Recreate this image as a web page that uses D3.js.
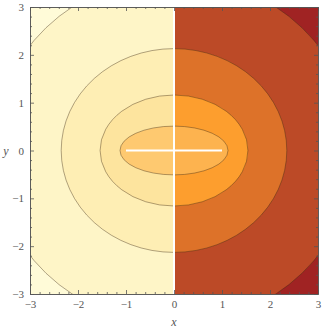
<!DOCTYPE html>
<html>
<head>
<meta charset="utf-8">
<script src="https://cdn.jsdelivr.net/npm/d3@7"></script>
<style>
  body { margin: 0; background: #fff; }
  svg text { font-family: "Liberation Serif", "DejaVu Serif", serif; }
</style>
</head>
<body>
<svg id="chart" width="322" height="330"></svg>
<script>
// contour ellipses (semi axes), innermost first
const semiX = [1.125, 1.54, 2.35, 3.77];
const semiY = [0.51, 1.16, 2.13, 3.63];
// fill colours from the centre outwards, last one = beyond outer contour
const leftFill = ['#fec970', '#fde49e', '#feeeb4', '#fef5c7', '#fffbd8'];
const rightFill = ['#fdb34f', '#fd9e2e', '#dd7229', '#bc4a27', '#a02323'];
// white cut lines
const cuts = [
  { x1: 0, y1: -3, x2: 0, y2: 3 },
  { x1: -1, y1: 0, x2: 1, y2: 0 }
];
const majorTicks = [-3, -2, -1, 0, 1, 2, 3];
const minorTicks = d3.range(-30, 31, 2).map(d => d / 10).filter(d => !majorTicks.includes(d));

const svg = d3.select('#chart');
const x = d3.scaleLinear().domain([-3, 3]).range([30, 318]);
const y = d3.scaleLinear().domain([-3, 3]).range([294, 7]);

const defs = svg.append('defs');
defs.append('clipPath').attr('id', 'clip-all')
  .append('rect').attr('x', x(-3)).attr('y', y(3))
  .attr('width', x(3) - x(-3)).attr('height', y(-3) - y(3));
defs.append('clipPath').attr('id', 'clip-left')
  .append('rect').attr('x', x(-3)).attr('y', y(3))
  .attr('width', x(0) - x(-3)).attr('height', y(-3) - y(3));
defs.append('clipPath').attr('id', 'clip-right')
  .append('rect').attr('x', x(0)).attr('y', y(3))
  .attr('width', x(3) - x(0)).attr('height', y(-3) - y(3));

const order = d3.range(semiX.length).reverse();

const drawHalf = (clipId, fills) => {
  const g = svg.append('g').attr('clip-path', `url(#${clipId})`);
  g.append('rect')
    .attr('x', x(-3)).attr('y', y(3))
    .attr('width', x(3) - x(-3)).attr('height', y(-3) - y(3))
    .attr('fill', fills[semiX.length]);
  g.selectAll('ellipse')
    .data(order)
    .enter()
    .append('ellipse')
    .attr('cx', x(0))
    .attr('cy', y(0))
    .attr('rx', i => x(semiX[i]) - x(0))
    .attr('ry', i => y(0) - y(semiY[i]))
    .attr('fill', i => fills[i]);
};

drawHalf('clip-left', leftFill);
drawHalf('clip-right', rightFill);

// contour lines
svg.append('g').attr('clip-path', 'url(#clip-all)')
  .selectAll('ellipse')
  .data(order)
  .enter()
  .append('ellipse')
  .attr('cx', x(0))
  .attr('cy', y(0))
  .attr('rx', i => x(semiX[i]) - x(0))
  .attr('ry', i => y(0) - y(semiY[i]))
  .attr('fill', 'none')
  .attr('stroke', 'rgba(60,40,20,0.45)')
  .attr('stroke-width', 0.9);

svg.append('g')
  .selectAll('line')
  .data(cuts)
  .enter()
  .append('line')
  .attr('x1', d => x(d.x1)).attr('y1', d => y(d.y1))
  .attr('x2', d => x(d.x2)).attr('y2', d => y(d.y2))
  .attr('stroke', '#fff')
  .attr('stroke-width', 2);

// frame and ticks
const fmt = d => d < 0 ? '\u2212' + Math.abs(d) : String(d);
const frame = (axisFn, tx, ty, labels) => {
  const major = svg.append('g').attr('transform', `translate(${tx},${ty})`)
    .call(axisFn.tickValues(majorTicks).tickSizeInner(-4).tickSizeOuter(0)
      .tickPadding(6).tickFormat(labels ? fmt : ''));
  const minor = svg.append('g').attr('transform', `translate(${tx},${ty})`)
    .call(axisFn.tickValues(minorTicks).tickSizeInner(-2).tickSizeOuter(0).tickFormat(''));
  [major, minor].forEach(g => {
    g.selectAll('path, line').attr('stroke', '#555').attr('stroke-width', 0.8);
    g.selectAll('text').attr('fill', '#555').style('font-size', '11px')
      .style('font-family', '"Liberation Serif", serif');
  });
};

frame(d3.axisBottom(x), 0, y(-3), true);
frame(d3.axisTop(x), 0, y(3), false);
frame(d3.axisLeft(y), x(-3), 0, true);
frame(d3.axisRight(y), x(3), 0, false);

svg.append('text')
  .attr('x', x(0)).attr('y', 326)
  .attr('text-anchor', 'middle')
  .attr('fill', '#555')
  .style('font-size', '12px').style('font-style', 'italic')
  .text('x');

svg.append('text')
  .attr('x', 6).attr('y', y(0) + 4)
  .attr('text-anchor', 'middle')
  .attr('fill', '#555')
  .style('font-size', '12px').style('font-style', 'italic')
  .text('y');
</script>
</body>
</html>
